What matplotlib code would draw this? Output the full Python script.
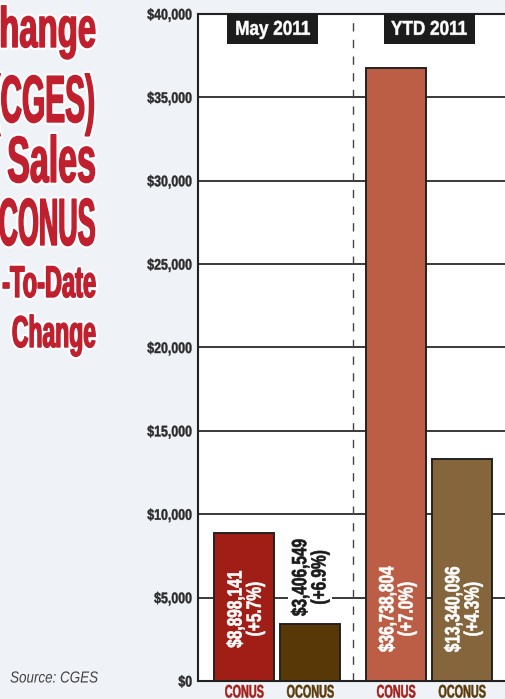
import matplotlib
matplotlib.use("Agg")
import matplotlib.pyplot as plt
from matplotlib.patheffects import AbstractPathEffect
from matplotlib.transforms import Affine2D
from matplotlib.patches import Rectangle
from matplotlib.ticker import FuncFormatter

# data
categories = ["CONUS", "OCONUS", "CONUS", "OCONUS"]
periods = ["May 2011", "YTD 2011"]
sales = [8898141, 3406549, 36738804, 13340096]
changes = ["+5.7%", "+6.9%", "+7.0%", "+4.3%"]
yticks = [0, 5000, 10000, 15000, 20000, 25000, 30000, 35000, 40000]
title_lines = ["Change", "(CGES)", "Sales", "CONUS", "-To-Date", "Change"]
source = "Source: CGES"

bar_colors = ["#a01e16", "#573806", "#bc5e46", "#85653b"]
label_colors = ["#a3201b", "#5c3c0a", "#a3201b", "#5c3c0a"]
text_colors = ["white", "#1a1a1a", "white", "white"]
xpos = [0, 1, 2.3, 3.3]
header_x = [0.43, 2.8]

FONT = ["Liberation Sans", "DejaVu Sans"]


class Squeeze(AbstractPathEffect):
    # squeeze glyphs along one axis (and thicken them) to mimic a condensed heavy face
    def __init__(self, s, anchor="center", axis="x", halo=0, bold=0.35):
        super().__init__()
        self.s = s
        self.anchor = anchor
        self.axis = axis
        self.halo = halo
        self.bold = bold

    def draw_path(self, renderer, gc, tpath, affine, rgbFace=None):
        e = tpath.get_extents(affine)
        if self.axis == "x":
            a = {"left": e.x0, "right": e.x1, "center": (e.x0 + e.x1) / 2}[self.anchor]
            t = affine + Affine2D().translate(-a, 0).scale(self.s, 1).translate(a, 0)
        else:
            a = (e.y0 + e.y1) / 2
            t = affine + Affine2D().translate(0, -a).scale(1, self.s).translate(0, a)
        if self.halo:
            gc0 = renderer.new_gc()
            gc0.copy_properties(gc)
            gc0.set_foreground("white")
            gc0.set_linewidth(self.halo)
            gc0.set_joinstyle("round")
            renderer.draw_path(gc0, tpath, t, None)
            gc0.restore()
        if self.bold and rgbFace is not None:
            gc1 = renderer.new_gc()
            gc1.copy_properties(gc)
            gc1.set_foreground(rgbFace)
            gc1.set_linewidth(self.bold)
            gc1.set_joinstyle("round")
            renderer.draw_path(gc1, tpath, t, rgbFace)
            gc1.restore()
        else:
            renderer.draw_path(gc, tpath, t, rgbFace)


fig = plt.figure(figsize=(5.06, 6.99), dpi=100)
fig.patch.set_facecolor("#eff2f6")

ax = fig.add_axes([198.5 / 506, 18 / 699, 1 - 198.5 / 506, 667 / 699])
ax.set_facecolor("white")
ax.set_xlim(-0.694, 3.965)
ax.set_ylim(0, 40000)

vals = [s / 1000 for s in sales]
ax.bar(xpos, vals, width=0.909, color=bar_colors, edgecolor="#222222",
       linewidth=1.4, zorder=3)

for y in yticks:
    ax.axhline(y, color="#2a2a2a", lw=1.3, zorder=1)
ax.axvline((xpos[1] + xpos[2]) / 2, color="#444444", lw=1.0,
           dashes=(6, 6), zorder=2)

for x, v, s, c, tc in zip(xpos, vals, sales, changes, text_colors):
    txt = "${:,}\n({})".format(s, c)
    kw = dict(rotation=90, ha="center", va="center", multialignment="center",
              color=tc, fontsize=14.8, family=FONT, weight="bold",
              linespacing=1.02, path_effects=[Squeeze(0.75, axis="y", bold=0.45)])
    if v > 8000:
        ax.text(x + 0.02, 4300, txt, zorder=5, **kw)
    else:
        ax.text(x, v + 2800, txt, zorder=2.5,
                bbox=dict(facecolor="white", edgecolor="none", pad=2), **kw)

hdr = ax.get_xaxis_transform()
for hx, p in zip(header_x, periods):
    ax.add_patch(Rectangle((hx - 0.69, 0.955), 1.38, 0.045, transform=hdr,
                           facecolor="#1c1c1c", edgecolor="none", zorder=6,
                           clip_on=False))
    ax.text(hx, 0.977, p, transform=hdr, ha="center", va="center",
            color="white", fontsize=14.5, family=FONT, weight="bold", zorder=7,
            path_effects=[Squeeze(0.85)])

ax.set_yticks(yticks)
ax.yaxis.set_major_formatter(FuncFormatter(lambda v, p: "${:,.0f}".format(v)))
ax.tick_params(axis="y", length=0, pad=4.5, labelsize=11, labelcolor="#2b2b2b")
for t in ax.get_yticklabels():
    t.set_family(FONT)
    t.set_weight("bold")
    t.set_path_effects([Squeeze(0.81, anchor="right", bold=0.3)])

ax.set_xticks(xpos)
ax.set_xticklabels(categories)
ax.tick_params(axis="x", length=0, pad=2.5, labelsize=13)
for t, c in zip(ax.get_xticklabels(), label_colors):
    t.set_color(c)
    t.set_family(FONT)
    t.set_weight("bold")
    t.set_path_effects([Squeeze(0.6)])

for side in ["left", "bottom", "top"]:
    ax.spines[side].set_color("#222222")
    ax.spines[side].set_linewidth(1.5)
ax.spines["right"].set_visible(False)

# title block on the left, partly cut off by the page edge
sizes = [41, 48, 47, 48, 32, 32]
baselines = [47, 122, 182, 245, 297, 347]
squeeze = [0.578, 0.448, 0.52, 0.403, 0.531, 0.516]
for line, fs, b, sx in zip(title_lines, sizes, baselines, squeeze):
    fig.text(97 / 506, 1 - b / 699, line, ha="right", va="baseline",
             fontsize=fs, family=FONT, weight="bold", color="#c0202e",
             path_effects=[Squeeze(sx, anchor="right", halo=4, bold=1.0)])

fig.text(10 / 506, 1 - 678 / 699, source, ha="left", va="center",
         fontsize=11.5, family=FONT, style="italic", color="#444444",
         path_effects=[Squeeze(0.84, anchor="left", bold=0)])

fig.savefig("out.png", dpi=100, facecolor=fig.get_facecolor())
